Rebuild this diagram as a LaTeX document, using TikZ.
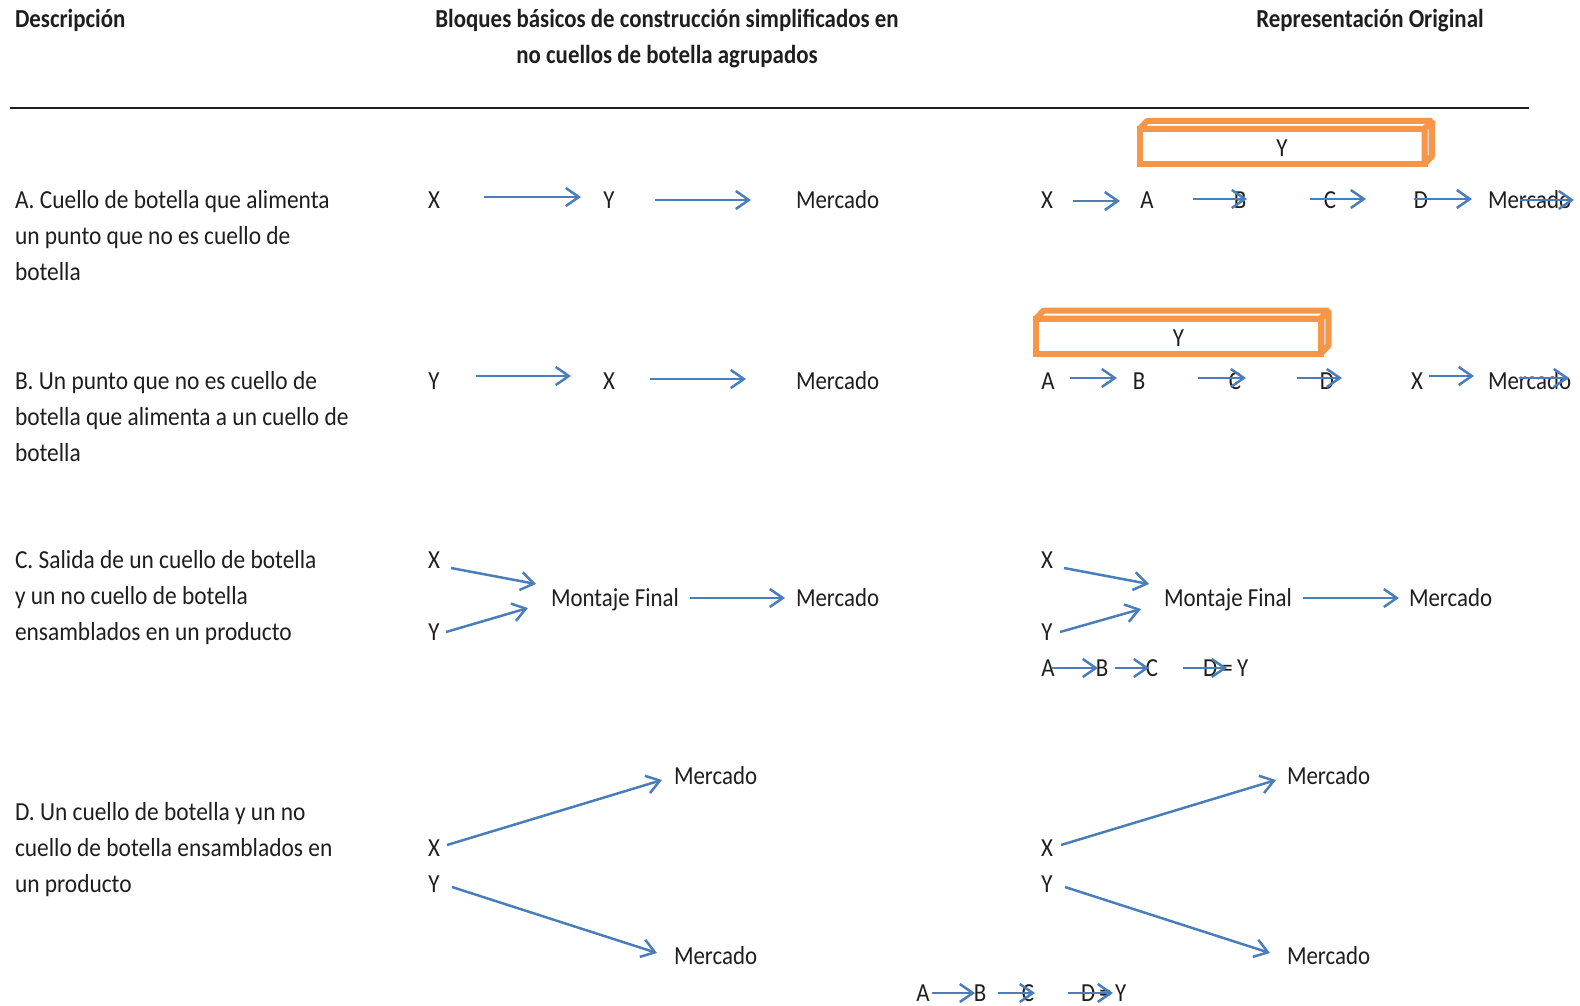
\documentclass[tikz,border=0pt]{standalone}
\usepackage{fontspec}
\setmainfont{Carlito}[FakeStretch=0.88]
\newfontfamily\descfont{Carlito}[FakeStretch=0.9]
\usetikzlibrary{arrows.meta}
\definecolor{arrowblue}{HTML}{4A7EBB}
\definecolor{boxorange}{HTML}{F79646}
\definecolor{sidegray}{HTML}{D9D9D9}
\definecolor{ink}{HTML}{1E1E1E}
\begin{document}
\begin{tikzpicture}[x=1pt,y=-1pt,
  txt/.style={font=\fontsize{26}{30}\selectfont, text=ink, inner sep=0pt, outer sep=0pt},
  desc/.style={font=\descfont\fontsize{26}{30}\selectfont, text=ink, inner sep=0pt, outer sep=0pt, anchor=base west},
  hdr/.style={font=\fontsize{26}{30}\selectfont\bfseries, text=ink, inner sep=0pt, outer sep=0pt},
  arr/.style={draw=arrowblue, line width=2.5pt, -{Straight Barb[length=13pt,width=18pt]}},
  ybox/.style={txt, draw=boxorange, line width=6pt, fill=white, minimum width=285pt, minimum height=35pt},
  face/.style={draw=boxorange, line width=6pt, line join=bevel}
]
\useasboundingbox (0,0) rectangle (1580,1006);

% headers
\node[hdr, anchor=base west] (h1) at (15,28) {Descripción};
\node[hdr, anchor=base] (h2a) at (667,28) {Bloques básicos de construcción simplificados en};
\node[hdr, anchor=base] (h2b) at (667,64) {no cuellos de botella agrupados};
\node[hdr, anchor=base] (h3) at (1370,28) {Representación Original};
\coordinate (r1) at (10,108);
\coordinate (r2) at (1529,108);
\draw[line width=2pt, ink] (r1) -- (r2);

% descriptions
\node[desc] (dA1) at (15,208) {A. Cuello de botella que alimenta};
\node[desc] (dA2) at (15,244) {un punto que no es cuello de};
\node[desc] (dA3) at (15,280) {botella};
\node[desc] (dB1) at (15,389) {B. Un punto que no es cuello de};
\node[desc] (dB2) at (15,425) {botella que alimenta a un cuello de};
\node[desc] (dB3) at (15,461) {botella};
\node[desc] (dC1) at (15,568) {C. Salida de un cuello de botella};
\node[desc] (dC2) at (15,604) {y un no cuello de botella};
\node[desc] (dC3) at (15,640) {ensamblados en un producto};
\node[desc] (dD1) at (15,820) {D. Un cuello de botella y un no};
\node[desc] (dD2) at (15,856) {cuello de botella ensamblados en};
\node[desc] (dD3) at (15,892) {un producto};

% ---------- Row A middle
\node[txt, anchor=base] (xA) at (434,208) {X};
\node[txt, anchor=base] (yA) at (609,208) {Y};
\node[txt, anchor=base west] (mA) at (796,208) {Mercado};
\draw[arr] ([shift={(50,-11)}]xA.base) -- ([shift={(-28,-11)}]yA.base);
\draw[arr] ([shift={(46,-8)}]yA.base) -- ([shift={(-45,-8)}]mA.base west);

% ---------- Row A right
\node[ybox] (boxA) at (1282,146.5) {};
\draw[face, fill=white] (boxA.north west) -- ++(7.5,-8) -- ([shift={(7.5,-8)}]boxA.north east) -- (boxA.north east) -- cycle;
\draw[face, fill=sidegray] (boxA.north east) -- ++(7.5,-8) -- ([shift={(7.5,-8)}]boxA.south east) -- (boxA.south east) -- cycle;
\node[txt, anchor=base] (yboxA) at ([yshift=-10pt]boxA.center) {Y};
\node[txt, anchor=base] (xAR) at (1047,208) {X};
\node[txt, anchor=base] (aAR) at (1147,208) {A};
\node[txt, anchor=base] (bAR) at (1240,208) {B};
\node[txt, anchor=base] (cAR) at (1330,208) {C};
\node[txt, anchor=base] (dAR) at (1421,208) {D};
\node[txt, anchor=base west] (mAR) at (1488,208) {Mercado};
\draw[arr] ([shift={(26,-7)}]xAR.base) -- ([shift={(-27,-7)}]aAR.base);
\draw[arr] ([shift={(46,-9)}]aAR.base) -- ([shift={(7,-9)}]bAR.base);
\draw[arr] ([shift={(-20,-9)}]cAR.base) -- ([shift={(-55,-9)}]dAR.base);
\draw[arr] ([shift={(-7,-9)}]dAR.base) -- ([shift={(-16,-9)}]mAR.base west);
\coordinate (mARend) at ([shift={(86,-8)}]mAR.base west);
\draw[arr] ([shift={(32,-8)}]mAR.base west) -- (mARend);

% ---------- Row B middle
\node[txt, anchor=base] (yB) at (434,389) {Y};
\node[txt, anchor=base] (xB) at (609,389) {X};
\node[txt, anchor=base west] (mB) at (796,389) {Mercado};
\draw[arr] ([shift={(42,-13)}]yB.base) -- ([shift={(-38,-13)}]xB.base);
\draw[arr] ([shift={(41,-10)}]xB.base) -- ([shift={(-50,-10)}]mB.base west);

% ---------- Row B right
\node[ybox] (boxB) at (1178.5,336) {};
\draw[face, fill=white] (boxB.north west) -- ++(7.5,-8) -- ([shift={(7.5,-8)}]boxB.north east) -- (boxB.north east) -- cycle;
\draw[face, fill=sidegray] (boxB.north east) -- ++(7.5,-8) -- ([shift={(7.5,-8)}]boxB.south east) -- (boxB.south east) -- cycle;
\node[txt, anchor=base] (yboxB) at ([yshift=-10pt]boxB.center) {Y};
\node[txt, anchor=base] (aBR) at (1048,389) {A};
\node[txt, anchor=base] (bBR) at (1139,389) {B};
\node[txt, anchor=base] (cBR) at (1235,389) {C};
\node[txt, anchor=base] (dBR) at (1327,389) {D};
\node[txt, anchor=base] (xBR) at (1417,389) {X};
\node[txt, anchor=base west] (mBR) at (1488,389) {Mercado};
\draw[arr] ([shift={(22,-11)}]aBR.base) -- ([shift={(-22,-11)}]bBR.base);
\draw[arr] ([shift={(59,-11)}]bBR.base) -- ([shift={(11,-11)}]cBR.base);
\draw[arr] ([shift={(62,-11)}]cBR.base) -- ([shift={(15,-11)}]dBR.base);
\draw[arr] ([shift={(12,-13)}]xBR.base) -- ([shift={(-14,-13)}]mBR.base west);
\coordinate (mBRend) at ([shift={(81,-11)}]mBR.base west);
\draw[arr] ([shift={(31,-11)}]mBR.base west) -- (mBRend);

% ---------- Row C middle
\node[txt, anchor=base] (xC) at (434,568) {X};
\node[txt, anchor=base] (yC) at (434,640) {Y};
\node[txt, anchor=base west] (fC) at (551,606) {Montaje Final};
\node[txt, anchor=base west] (mC) at (796,606) {Mercado};
\draw[arr] ([shift={(17,0)}]xC.base) -- ([shift={(-15,-22)}]fC.base west);
\draw[arr] ([shift={(12,-8)}]yC.base) -- ([shift={(-23,2)}]fC.base west);
\draw[arr] ([shift={(11,-8)}]fC.base east) -- ([shift={(-11,-8)}]mC.base west);

% ---------- Row C right
\node[txt, anchor=base] (xCR) at (1047,568) {X};
\node[txt, anchor=base] (yCR) at (1047,640) {Y};
\node[txt, anchor=base west] (fCR) at (1164,606) {Montaje Final};
\node[txt, anchor=base west] (mCR) at (1409,606) {Mercado};
\draw[arr] ([shift={(17,0)}]xCR.base) -- ([shift={(-15,-22)}]fCR.base west);
\draw[arr] ([shift={(13,-8)}]yCR.base) -- ([shift={(-23,3)}]fCR.base west);
\draw[arr] ([shift={(11,-8)}]fCR.base east) -- ([shift={(-10,-8)}]mCR.base west);
\node[txt, anchor=base] (aC) at (1048,676) {A};
\node[txt, anchor=base] (bC) at (1102,676) {B};
\node[txt, anchor=base] (cC) at (1152,676) {C};
\node[txt, anchor=base west] (dyC) at (1203,676) {D\,=\,Y};
\draw[arr] ([shift={(4,-8)}]aC.base) -- ([shift={(-4,-8)}]bC.base);
\draw[arr] ([shift={(13,-8)}]bC.base) -- ([shift={(-3,-8)}]cC.base);
\draw[arr] ([shift={(31,-8)}]cC.base) -- ([shift={(24,-8)}]dyC.base west);

% ---------- Row D middle
\node[txt, anchor=base west] (mDt) at (674,784) {Mercado};
\node[txt, anchor=base] (xD) at (434,856) {X};
\node[txt, anchor=base] (yD) at (434,892) {Y};
\node[txt, anchor=base west] (mDb) at (674,964) {Mercado};
\draw[arr] ([shift={(13,-11)}]xD.base) -- ([shift={(-12,-4)}]mDt.base west);
\draw[arr] ([shift={(18,-5)}]yD.base) -- ([shift={(-17,-11)}]mDb.base west);

% ---------- Row D right
\node[txt, anchor=base west] (mDtR) at (1287,784) {Mercado};
\node[txt, anchor=base] (xDR) at (1047,856) {X};
\node[txt, anchor=base] (yDR) at (1047,892) {Y};
\node[txt, anchor=base west] (mDbR) at (1287,964) {Mercado};
\draw[arr] ([shift={(14,-11)}]xDR.base) -- ([shift={(-11,-4)}]mDtR.base west);
\draw[arr] ([shift={(18,-5)}]yDR.base) -- ([shift={(-17,-11)}]mDbR.base west);

% ---------- bottom chain
\node[txt, anchor=base] (aD) at (923,1001) {A};
\node[txt, anchor=base] (bD) at (980,1001) {B};
\node[txt, anchor=base] (cD) at (1028,1001) {C};
\node[txt, anchor=base west] (dyD) at (1081,1001) {D\,=\,Y};
\draw[arr] ([shift={(9,-8)}]aD.base) -- ([shift={(-5,-8)}]bD.base);
\draw[arr] ([shift={(18,-8)}]bD.base) -- ([shift={(7,-8)}]cD.base);
\draw[arr] ([shift={(40,-8)}]cD.base) -- ([shift={(32,-8)}]dyD.base west);
\end{tikzpicture}
\end{document}
